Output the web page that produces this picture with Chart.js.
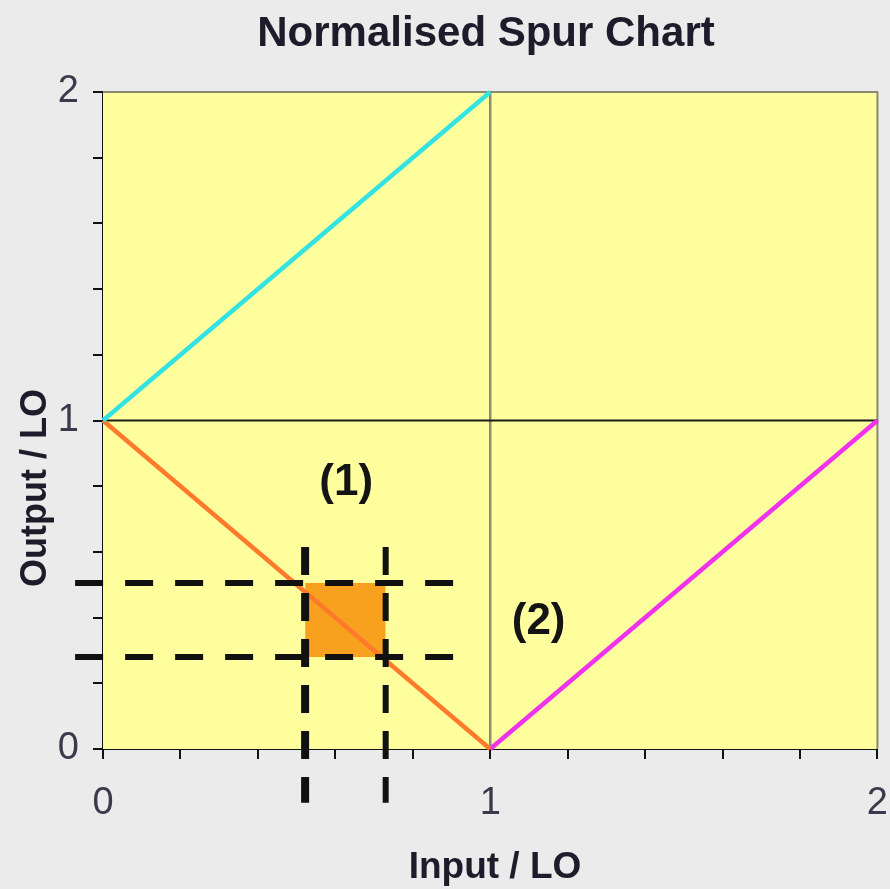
<!DOCTYPE html>
<html>
<head>
<meta charset="utf-8">
<script src="https://cdn.jsdelivr.net/npm/chart.js@4.4.0/dist/chart.umd.min.js"></script>
<style>
  html, body { margin: 0; padding: 0; background: #ebebeb; overflow: hidden; }
  #wrap { width: 910px; height: 889px; }
</style>
</head>
<body>
<div id="wrap"><canvas id="spurChart"></canvas></div>
<script>
// axis range, tick step and the ticks that carry a label
const axisMin = 0, axisMax = 2, tickStep = 0.2;
const labelledTicks = [0, 1, 2];

// spur lines (normalised to LO)
const sumX = [0, 1];        const sumY = [1, 2];   // in + LO
const loMinusInX = [0, 1];  const loMinusInY = [1, 0];   // LO - in
const inMinusLoX = [1, 2];  const inMinusLoY = [0, 1];   // in - LO
const loRefX = [0, 2];      const loRefY = [1, 1];
const inRefX = [1, 1];      const inRefY = [0, 2];

// input band (vertical dashes) / output band (horizontal dashes)
const bandInput = [0.522, 0.73];
const bandOutput = [0.505, 0.28];
const hDashX = [-0.072, 0.919];
const vDashY = [0.615, -0.164];

// region labels
const regionText = ['(1)', '(2)'];
const regionX = [0.628, 1.125];
const regionY = [0.81, 0.387];

const pts = (xs, ys) => xs.map((x, i) => ({ x: x, y: ys[i] }));

function lineSet(data, color, width, order, dash) {
    return {
        data: data,
        showLine: true,
        borderColor: color,
        borderWidth: width,
        borderDash: dash || [],
        borderCapStyle: 'butt',
        pointRadius: 0,
        fill: false,
        clip: false,
        order: order
    };
}

const datasets = [
    lineSet(pts(inRefX, inRefY), '#8c8c70', 2.5, 9),
    lineSet(pts(loRefX, loRefY), '#1a1a1a', 2, 8),
    // orange band: top edge filled down to bottom edge
    Object.assign(lineSet(pts(bandInput, [bandOutput[0], bandOutput[0]]), 'rgba(0,0,0,0)', 0, 7),
        { fill: '+1', backgroundColor: '#f7a11f' }),
    lineSet(pts(bandInput, [bandOutput[1], bandOutput[1]]), 'rgba(0,0,0,0)', 0, 7),
    lineSet(pts(sumX, sumY), '#33e3e3', 4.5, 5),
    lineSet(pts(loMinusInX, loMinusInY), '#ff7a2a', 4.5, 5),
    lineSet(pts(inMinusLoX, inMinusLoY), '#f032ee', 4.5, 5),
    lineSet(pts(hDashX, [bandOutput[0], bandOutput[0]]), '#111', 6, 1, [28, 22]),
    lineSet(pts(hDashX, [bandOutput[1], bandOutput[1]]), '#111', 6, 1, [28, 22]),
    lineSet(pts([bandInput[0], bandInput[0]], vDashY), '#111', 8, 1, [28, 18]),
    lineSet(pts([bandInput[1], bandInput[1]], vDashY), '#111', 6, 1, [28, 18])
];

const tickLabel = v => {
    const r = Math.round(v);
    return (Math.abs(v - r) < 1e-6 && labelledTicks.includes(r)) ? String(r) : '';
};

function axis(extra) {
    return Object.assign({
        type: 'linear',
        min: axisMin,
        max: axisMax,
        ticks: {
            stepSize: tickStep,
            autoSkip: false,
            maxRotation: 0,
            callback: tickLabel,
            color: '#3a3a4c',
            font: { family: '"Liberation Sans", Arial, sans-serif', size: 38 }
        },
        grid: {
            drawOnChartArea: false,
            drawTicks: true,
            tickLength: 10,
            color: '#111',
            lineWidth: 2
        },
        border: { color: '#111', width: 2 }
    }, extra);
}

const xScale = axis({ afterFit: s => { s.height = 140; } });
xScale.ticks.padding = 22;
const yScale = axis({ afterFit: s => { s.width = 103; } });
yScale.ticks.padding = 14;

const font = (size) => 'bold ' + size + 'px "Liberation Sans", Arial, sans-serif';

const frame = {
    id: 'frame',
    beforeDatasetsDraw(chart) {
        const { ctx, chartArea: a } = chart;
        ctx.save();
        ctx.fillStyle = '#ffff9e';
        ctx.fillRect(a.left, a.top, a.right - a.left, a.bottom - a.top);
        ctx.strokeStyle = '#8a8a72';
        ctx.lineWidth = 2;
        ctx.beginPath();
        ctx.moveTo(a.left, a.top);
        ctx.lineTo(a.right, a.top);
        ctx.lineTo(a.right, a.bottom);
        ctx.stroke();
        ctx.restore();
    },
    afterDraw(chart) {
        const { ctx, scales } = chart;
        ctx.save();
        ctx.fillStyle = '#1c1c2a';
        ctx.textAlign = 'center';
        ctx.textBaseline = 'alphabetic';
        ctx.font = font(42);
        ctx.fillText('Normalised Spur Chart', 486, 46);
        ctx.font = font(37);
        ctx.fillText('Input / LO', 495, 878);
        ctx.save();
        ctx.translate(46, 488);
        ctx.rotate(-Math.PI / 2);
        ctx.font = font(36);
        ctx.fillText('Output / LO', 0, 0);
        ctx.restore();
        ctx.fillStyle = '#141414';
        ctx.font = font(44);
        ctx.textBaseline = 'middle';
        regionText.forEach((t, i) => {
            ctx.fillText(t, scales.x.getPixelForValue(regionX[i]), scales.y.getPixelForValue(regionY[i]));
        });
        ctx.restore();
    }
};

new Chart(document.getElementById('spurChart'), {
    type: 'scatter',
    data: { datasets: datasets },
    options: {
        responsive: true,
        maintainAspectRatio: false,
        animation: false,
        layout: { padding: { top: 92, right: 30, bottom: 0, left: 0 } },
        plugins: { legend: { display: false }, tooltip: { enabled: false }, title: { display: false } },
        scales: { x: xScale, y: yScale }
    },
    plugins: [frame]
});
</script>
</body>
</html>
